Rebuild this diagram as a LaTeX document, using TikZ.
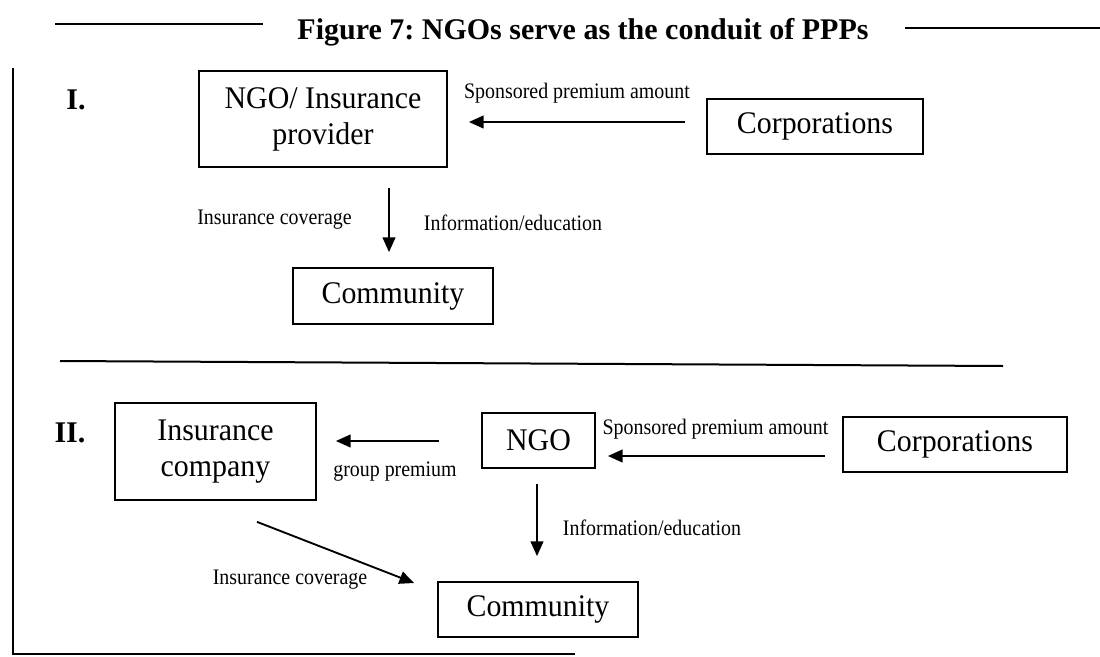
\documentclass[tikz,border=0pt]{standalone}
\usepackage{fontspec}
\setmainfont{Liberation Serif}
\newfontfamily\narrowserif[FakeStretch=0.9]{Liberation Serif}
\newfontfamily\boxserif[FakeStretch=0.95]{Liberation Serif}
\usetikzlibrary{arrows.meta}
\frenchspacing
\begin{document}
\begin{tikzpicture}[x=0.75pt,y=-0.75pt,
  boxtext/.style={draw,line width=1.3pt,inner sep=0pt,align=center,
    font=\boxserif\fontsize{23.6}{27}\selectfont},
  lbl/.style={inner sep=0pt,font=\narrowserif\fontsize{16.6}{19}\selectfont},
  arr/.style={line width=1.4pt,-{Triangle[length=11pt,width=9.5pt]}},
  rule/.style={line width=1.5pt},
  roman/.style={inner sep=0pt,font=\bfseries\fontsize{22.5}{27}\selectfont}]
\useasboundingbox (0,0) rectangle (1100,657);
% title and frame
\node[inner sep=0pt,font=\bfseries\fontsize{22.5}{27}\selectfont] (title) at (583,32) {Figure 7: NGOs serve as the conduit of PPPs};
\coordinate (tl1) at (55,24);
\coordinate (tl2) at (263,24);
\coordinate (tr1) at (905,28);
\coordinate (tr2) at (1100,28);
\draw[rule] (tl1) -- (tl2);
\draw[rule] (tr1) -- (tr2);
\coordinate (f1) at (13,68);
\coordinate (f2) at (13,654);
\coordinate (f3) at (575,654);
\draw[line width=1.7pt] (f1) -- (f2) -- (f3);
\coordinate (s1) at (60,361);
\coordinate (s2) at (1003,366);
\draw[rule] (s1) -- (s2);
% part I
\node[roman] (romI) at (76,100) {I.};
\node[boxtext,minimum width=186pt,minimum height=72pt] (ngoI) at (323,119) {NGO/ Insurance\\provider};
\node[boxtext,minimum width=162pt,minimum height=41.25pt] (corpI) at (815,126.5) {Corporations};
\node[boxtext,minimum width=150pt,minimum height=42pt] (commI) at (393,296) {Community};
\node[lbl] (sponsI) at (577,93) {Sponsored premium amount};
\node[lbl] (covI) at (274.5,220) {Insurance coverage};
\node[lbl] (infoI) at (513,223) {Information/education};
\draw[arr] ([shift={(-21,-4.5)}]corpI.west) -- ([shift={(21,3)}]ngoI.east);
\draw[arr] ([shift={(66,20)}]ngoI.south) -- ([shift={(-4,-15)}]commI.north);
% part II
\node[roman] (romII) at (70,433) {II.};
\node[boxtext,minimum width=150.75pt,minimum height=72.75pt] (insII) at (215.5,451.5) {Insurance\\company};
\node[boxtext,minimum width=84.75pt,minimum height=41.25pt] (ngoII) at (538.5,440.5) {NGO};
\node[boxtext,minimum width=168pt,minimum height=41.25pt] (corpII) at (955,444.5) {Corporations};
\node[boxtext,minimum width=150pt,minimum height=41.25pt] (commII) at (538,609.5) {Community};
\node[lbl] (groupII) at (395,472) {group premium};
\node[lbl] (sponsII) at (715.5,429) {Sponsored premium amount};
\node[lbl] (infoII) at (652,528) {Information/education};
\node[lbl] (covII) at (290,580) {Insurance coverage};
\draw[arr] ([shift={(-42,0.5)}]ngoII.west) -- ([shift={(19,-10.5)}]insII.east);
\draw[arr] ([shift={(-17,11.5)}]corpII.west) -- ([shift={(12,15.5)}]ngoII.east);
\draw[arr] ([shift={(-1.5,15)}]ngoII.south) -- ([shift={(-1,-25)}]commII.north);
\draw[arr] ([shift={(41.5,21)}]insII.south) -- ([shift={(-23,-26.5)}]commII.west);
\end{tikzpicture}
\end{document}
